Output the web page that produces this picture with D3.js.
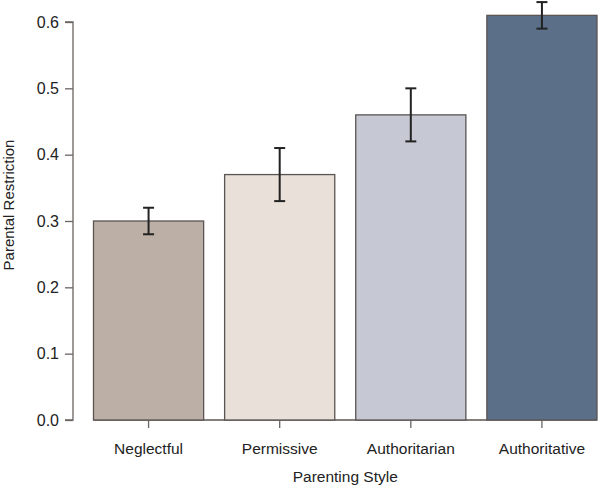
<!DOCTYPE html>
<html><head><meta charset="utf-8">
<script src="https://cdn.jsdelivr.net/npm/d3@7"></script>
<style>body{margin:0;background:#fff}svg{display:block}text{font-family:"Liberation Sans",Arial,sans-serif;fill:#222}</style>
</head><body><svg id="c" width="600" height="488"></svg>
<script>
const categories = ["Neglectful","Permissive","Authoritarian","Authoritative"];
const values = [0.30, 0.37, 0.46, 0.61];
const lower = [0.28, 0.33, 0.42, 0.59];
const upper = [0.32, 0.41, 0.50, 0.63];
const colors = ["#bcb0a6","#e8e0d9","#c6c9d3","#5b6f89"];
const yTicks = [0, 0.1, 0.2, 0.3, 0.4, 0.5, 0.6];

const svg = d3.select("#c");
const x = d3.scaleBand().domain(categories).range([93.5, 597]).paddingInner(0.16).paddingOuter(0);
const y = d3.scaleLinear().domain([0, 0.6]).range([420, 22]);

// y axis
const yAx = svg.append("g").attr("transform","translate(73,0)")
  .call(d3.axisLeft(y).tickValues(yTicks).tickFormat(d3.format(".1f")).tickSize(8).tickPadding(6));
yAx.selectAll("path,line").attr("stroke","#6a6462").attr("stroke-width",1.3);
yAx.select(".domain").attr("d", `M-8,${y(0)}H0V${y(0.6)}H-8`);
yAx.selectAll("text").style("font-size","16px").attr("fill","#222");

// baseline
svg.append("line").attr("x1",x.range()[0]).attr("x2",x.range()[1]).attr("y1",y(0)).attr("y2",y(0))
  .attr("stroke","#5a5452").attr("stroke-width",1.3);

// bars
svg.selectAll("rect.bar").data(categories).enter().append("rect").attr("class","bar")
  .attr("x", d => x(d)).attr("width", x.bandwidth())
  .attr("y", (d,i) => y(values[i])).attr("height", (d,i) => y(0) - y(values[i]))
  .attr("fill", (d,i) => colors[i]).attr("stroke","#5a5452").attr("stroke-width",1.3);

// x axis ticks and labels
const xAx = svg.append("g").attr("transform",`translate(0,${y(0)})`)
  .call(d3.axisBottom(x).tickSize(8).tickPadding(15));
xAx.select(".domain").remove();
xAx.selectAll("line").attr("stroke","#6a6462").attr("stroke-width",1.3);
xAx.selectAll("text").style("font-size","15.5px").attr("fill","#222");

// error bars
const eb = svg.append("g").attr("stroke","#222").attr("stroke-width",2);
categories.forEach((c,i) => {
  const cx = x(c) + x.bandwidth()/2;
  eb.append("line").attr("x1",cx).attr("x2",cx).attr("y1",y(lower[i])).attr("y2",y(upper[i]));
  eb.append("line").attr("x1",cx-5.5).attr("x2",cx+5.5).attr("y1",y(lower[i])).attr("y2",y(lower[i]));
  eb.append("line").attr("x1",cx-5.5).attr("x2",cx+5.5).attr("y1",y(upper[i])).attr("y2",y(upper[i]));
});

// axis titles
svg.append("text").attr("x", (x.range()[0]+x.range()[1])/2).attr("y",482).attr("text-anchor","middle")
  .style("font-size","15.5px").text("Parenting Style");
svg.append("text").attr("transform","translate(14,205) rotate(-90)").attr("text-anchor","middle")
  .style("font-size","15px").text("Parental Restriction");
</script></body></html>
